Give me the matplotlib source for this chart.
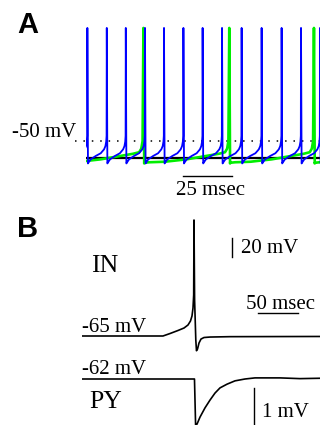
import matplotlib
matplotlib.use("Agg")
import matplotlib.pyplot as plt

# ---- panel A data (ms, mV) ----
blue_spikes = [-9.2, 0.7, 10.6, 20.3, 30.1, 39.8, 49.7, 59.5, 69.4, 79.4,
               89.6, 99.8, 109.7, 119.4, 129.2]
green_spikes = [-14.4, 29.3, 73.1, 116.3, 159.5]
# shape of one interspike interval, as fraction of the interval -> mV
blue_isi_frac = [0.05, 0.17, 0.43, 0.69, 0.86, 0.93, 0.97, 0.99]
blue_isi_mv = [-62.8, -60.8, -58.8, -57.2, -54.9, -53.0, -50.4, -47.0]
green_isi_frac = [0.01, 0.07, 0.25, 0.32, 0.5, 0.73, 0.88, 0.95, 0.975, 0.99]
green_isi_mv = [-62.8, -62.5, -62.2, -61.8, -60.8, -58.8, -57.5, -56.6, -54.5, -50.0]
spike_peak = 16.5
spike_trough = -63.2
black_t = [0.0, 119.4]
black_mv = [-60.0, -60.0]

# ---- panel B data (ms from spike, mV) ----
in_t = [-140, -38.8, -30, -20, -12.5, -7.5, -4.4, -2.5, -1.25, -0.4, 0,
        0.75, 2.25, 3.1, 4.4, 6.25, 8.75, 12.5, 20, 45, 157.5]
in_mv = [-65, -65, -62.4, -59.2, -56.6, -53.4, -49.2, -43.9, -35.5, -21.8, 57.1,
         -27.1, -69.2, -80.5, -78.7, -72.4, -68.2, -66.6, -66.1, -65.7, -65.5]
py_t = [-140, 0.6, 2.0, 3.75, 7.5, 13.75, 20, 26.25, 32.5, 41.25, 51.25,
        63.75, 76.25, 107.5, 132.5, 157.5]
py_mv = [-62, -62, -63.25, -63.22, -63.03, -62.78, -62.57, -62.38, -62.24,
         -62.14, -62.05, -62.0, -61.97, -61.97, -61.99, -61.98]

W, H = 320, 425
SERIF = "Liberation Serif"
SANS = "Liberation Sans"

fig = plt.figure(figsize=(W / 100, H / 100), dpi=100)


def px_axes(x0, x1, y0, y1, t0_px, px_per_ms, v_ref, v_ref_py, px_per_mv):
    """axes placed by pixel box (top-down), with ms / mV scales"""
    ax = fig.add_axes([x0 / W, 1 - y1 / H, (x1 - x0) / W, (y1 - y0) / H])
    ax.set_xlim((x0 - t0_px) / px_per_ms, (x1 - t0_px) / px_per_ms)
    ax.set_ylim(v_ref - (y1 - v_ref_py) / px_per_mv, v_ref + (v_ref_py - y0) / px_per_mv)
    ax.axis("off")
    ax.patch.set_alpha(0)
    return ax


def spike_train(spikes, frac, mv, t_trough):
    t, v = [], []
    for a, b in zip(spikes[:-1], spikes[1:]):
        t += [a, a + t_trough]
        v += [spike_peak, spike_trough]
        for s, vv in zip(frac, mv):
            t.append(a + s * (b - a))
            v.append(vv)
    return t, v


# ---------------- A ----------------
axA = px_axes(86, 320, 0, 200, 86, 1.96, -50, 141, 1.7)
axA.plot(black_t, black_mv, color="black", lw=1.6, zorder=1)
axA.plot([-5.6, 119.4], [-50, -50], color="black", lw=1.1, dashes=(1, 4.5),
         clip_on=False, zorder=0)
gt, gv = spike_train(green_spikes, green_isi_frac, green_isi_mv, 0.4)
axA.plot(gt, gv, color="#00ee00", lw=1.9, zorder=2)
bt, bv = spike_train(blue_spikes, blue_isi_frac, blue_isi_mv, 0.3)
axA.plot(bt, bv, color="#0000ff", lw=1.3, zorder=3)
axA.plot([49.5, 74.5], [-70.6, -70.6], color="black", lw=1.0, clip_on=False)
axA.text(63.3, -81.8, "25 msec", ha="center", va="baseline", family=SERIF, fontsize=15)
axA.text(-5.1, -47.9, "-50 mV", ha="right", va="baseline", family=SERIF, fontsize=15)
fig.text(17 / W, 1 - 33 / H, "A", family=SANS, weight="bold", fontsize=21, va="baseline")

# ---------------- B ----------------
axIN = px_axes(82, 320, 200, 425, 194, 0.8, -65, 336, 0.95)
axIN.plot(in_t, in_mv, color="black", lw=1.2)
axIN.plot([47.5, 47.5], [18.2, 38.2], color="black", lw=1.0)
axIN.plot([80, 130], [-40.8, -40.8], color="black", lw=1.0)
axIN.text(-128.75, 2.7, "IN", va="baseline", family=SERIF, fontsize=18.5)
axIN.text(58.75, 22.4, "20 mV", va="baseline", family=SERIF, fontsize=15)
axIN.text(108.1, -36.6, "50 msec", ha="center", va="baseline", family=SERIF, fontsize=15)
axIN.text(-140, -60.8, "-65 mV", va="baseline", family=SERIF, fontsize=15)

axPY = px_axes(82, 320, 200, 425, 194, 0.8, -62, 379, 37)
axPY.plot(py_t, py_mv, color="black", lw=1.2)
axPY.plot([75, 75], [-62.24, -63.3], color="black", lw=1.0, clip_on=False)
axPY.text(-140, -61.86, "-62 mV", va="baseline", family=SERIF, fontsize=15)
axPY.text(-131.25, -62.78, "PY", va="baseline", family=SERIF, fontsize=18.5)
axPY.text(85, -63.03, "1 mV", va="baseline", family=SERIF, fontsize=15)
fig.text(17 / W, 1 - 237 / H, "B", family=SANS, weight="bold", fontsize=21, va="baseline")

fig.savefig("out.png", dpi=100)
